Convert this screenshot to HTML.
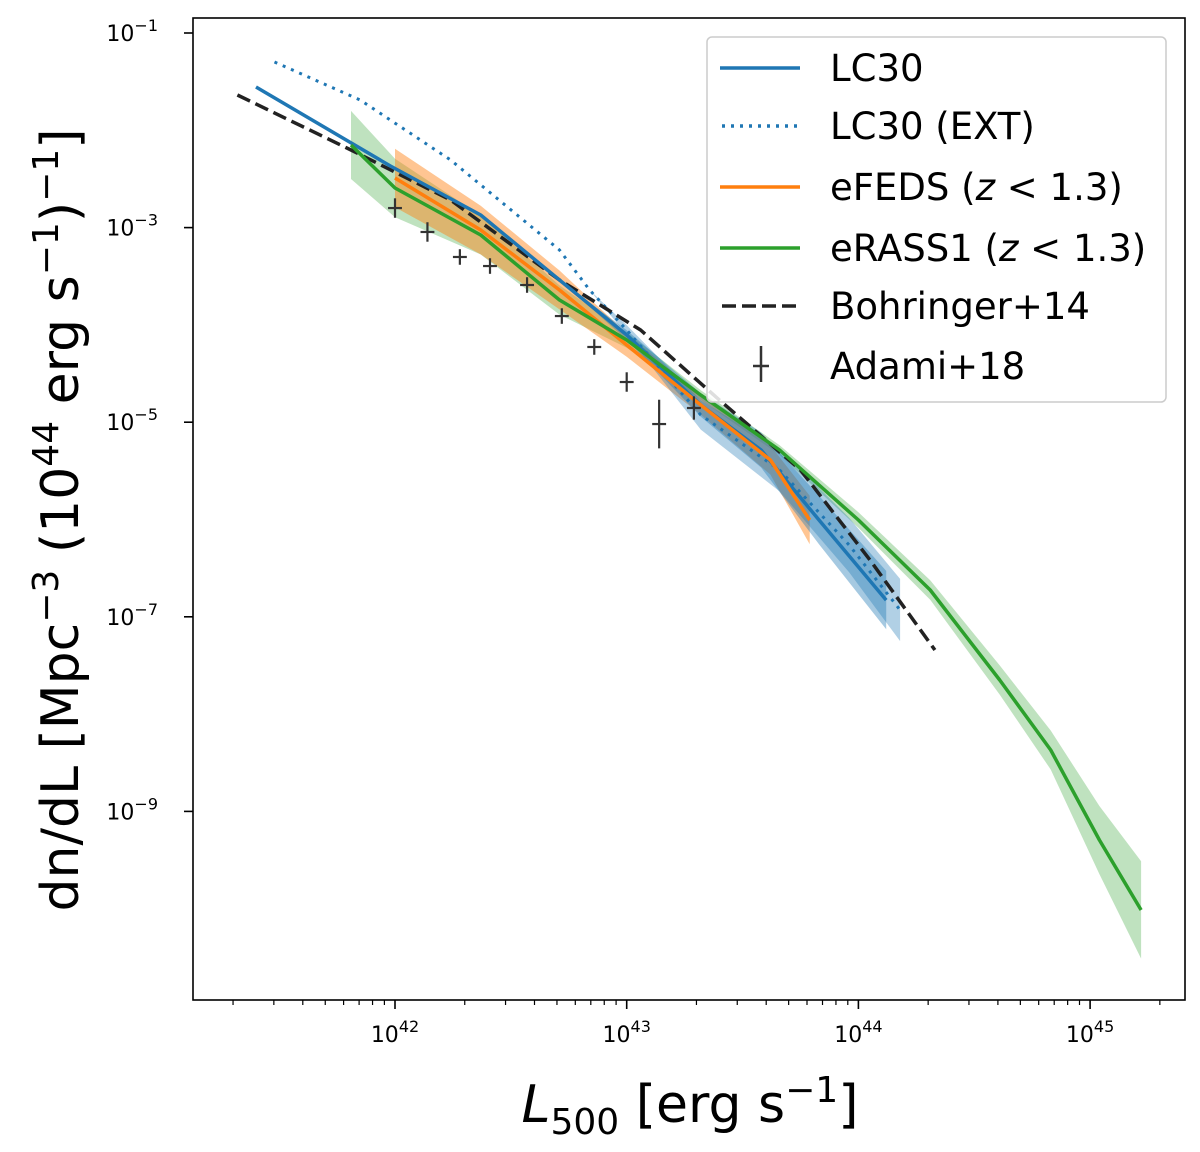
<!DOCTYPE html>
<html><head><meta charset="utf-8"><style>
body{margin:0;background:#fff;}
svg text{font-family:"DejaVu Sans","Liberation Sans",sans-serif;fill:#000;}
</style></head><body>
<svg id="chart" width="1200" height="1147" viewBox="0 0 1200 1147" xmlns="http://www.w3.org/2000/svg">
<g id="plot"></g>
<rect x="193" y="18" width="992" height="982" fill="none" stroke="#000" stroke-width="1.6"/>
<g id="ticks"></g>
<text transform="translate(78,520) rotate(-90)" text-anchor="middle" font-size="52">dn/dL [Mpc<tspan dy="-20" font-size="36">−3</tspan><tspan dy="20"> (10</tspan><tspan dy="-20" font-size="36">44</tspan><tspan dy="20">  erg s</tspan><tspan dy="-20" font-size="36">−1</tspan><tspan dy="20">)</tspan><tspan dy="-20" font-size="36">−1</tspan><tspan dy="20">]</tspan></text>
<text x="690" y="1122" text-anchor="middle" font-size="52"><tspan font-style="italic">L</tspan><tspan dy="12" font-size="36">500</tspan><tspan dy="-12"> [erg s</tspan><tspan dy="-20" font-size="36">−1</tspan><tspan dy="20">]</tspan></text>
<g>
<rect x="707" y="37" width="459" height="365" rx="5" fill="#fff" fill-opacity="0.85" stroke="#ccc" stroke-width="1.5"/>
<line x1="720" y1="68" x2="800" y2="68" stroke="#1f77b4" stroke-width="3.5"/>
<text x="830" y="81" font-size="37">LC30</text>
<line x1="722" y1="126" x2="800" y2="126" stroke="#1f77b4" stroke-width="3.5" stroke-dasharray="3,6"/>
<text x="830" y="139" font-size="37">LC30 (EXT)</text>
<line x1="720" y1="187" x2="800" y2="187" stroke="#ff7f0e" stroke-width="3.5"/>
<text x="830" y="200" font-size="37">eFEDS  (<tspan font-style="italic">z</tspan> &lt; 1.3)</text>
<line x1="720" y1="248" x2="800" y2="248" stroke="#2ca02c" stroke-width="3.5"/>
<text x="830" y="261" font-size="37">eRASS1 (<tspan font-style="italic">z</tspan> &lt; 1.3)</text>
<line x1="722" y1="306" x2="800" y2="306" stroke="#222" stroke-width="3.5" stroke-dasharray="14,6"/>
<text x="830" y="319" font-size="37">Bohringer+14</text>
<g stroke="#333" stroke-width="2.5"><line x1="761" y1="346" x2="761" y2="382"/><line x1="753" y1="366" x2="769" y2="366"/></g>
<text x="830" y="379" font-size="37">Adami+18</text>
</g>
</svg>
<script>
// data (log10 values)
const lc30L=[41.40,41.98,42.37,42.71,43.00,43.32,43.58,43.83,44.12];
const lc30Y=[-1.555,-2.367,-2.870,-3.539,-4.104,-4.823,-5.286,-6.005,-6.828];
const lc30Err=[0,0,0,0,0.05,0.12,0.18,0.25,0.3];
const extL=[41.48,41.85,42.24,42.71,42.84,43.00,43.32,43.66,43.96,44.18];
const extY=[-1.298,-1.689,-2.305,-3.230,-3.641,-4.052,-4.926,-5.491,-6.262,-6.930];
const extErr=[0,0,0,0,0,0.05,0.15,0.22,0.28,0.32];
const bohL=[41.32,41.81,42.24,42.71,43.06,43.40,43.75,44.05,44.33];
const bohY=[-1.637,-2.202,-2.716,-3.539,-4.052,-4.772,-5.491,-6.416,-7.341];
const erL=[41.81,42.00,42.37,42.71,43.00,43.32,43.66,44.00,44.31,44.61,44.83,45.04,45.22];
const erY=[-2.151,-2.593,-3.076,-3.744,-4.155,-4.721,-5.286,-6.005,-6.725,-7.650,-8.369,-9.294,-10.013];
const erErr=[0.35,0.3,0.2,0.15,0.08,0.05,0.05,0.08,0.1,0.15,0.2,0.35,0.5];
const efL=[42.00,42.37,42.71,43.00,43.32,43.62,43.79];
const efY=[-2.490,-3.025,-3.641,-4.207,-4.823,-5.389,-6.005];
const efErr=[0.3,0.25,0.2,0.12,0.1,0.15,0.25];
const adL=[42.00,42.14,42.28,42.41,42.57,42.72,42.86,43.00,43.14,43.29];
const adY=[-2.799,-3.045,-3.302,-3.395,-3.590,-3.909,-4.227,-4.587,-5.019,-4.854];
const adErr=[0.1,0.1,0.08,0.08,0.08,0.08,0.08,0.1,0.25,0.12];
const xTickExp=[42,43,44,45];
const yTickExp=[-1,-3,-5,-7,-9];

const X=l=>395+(l-42)*231.7;
const Y=v=>33+(-1-v)*97.3;
const NS="http://www.w3.org/2000/svg";
const plot=document.getElementById('plot'), ticks=document.getElementById('ticks');
function mk(tag,attrs,parent){const e=document.createElementNS(NS,tag);for(const k in attrs)e.setAttribute(k,attrs[k]);parent.appendChild(e);return e;}
function pts(L,V,off){return L.map((l,i)=>X(l).toFixed(1)+','+Y(V[i]+(off?off[i]:0)).toFixed(1));}
function band(L,V,E,color,op,name){
  const up=pts(L,V,E), lo=pts(L,V,E.map(e=>-e)).reverse();
  const p=mk('polygon',{points:up.concat(lo).join(' '),fill:color,'fill-opacity':op,stroke:'none'},plot);
  
  
}
function line(L,V,color,dash,name,w){
  const p=mk('polyline',{points:pts(L,V).join(' '),fill:'none',stroke:color,'stroke-width':w||3.5,'stroke-dasharray':dash||'none','stroke-linejoin':'round'},plot);
  
  
}
band(erL,erY,erErr,'#2ca02c',0.3,'erass1-band');
band(efL,efY,efErr,'#ff7f0e',0.45,'efeds-band');
band(extL,extY,extErr,'#1f77b4',0.35,'lc30-ext-band');
band(lc30L,lc30Y,lc30Err,'#1f77b4',0.4,'lc30-band');
line(extL,extY,'#1f77b4','3,6','lc30-ext-line',3);
line(bohL,bohY,'#222','14,6','bohringer-line');
line(lc30L,lc30Y,'#1f77b4',null,'lc30-line');
line(efL,efY,'#ff7f0e',null,'efeds-line');
line(erL,erY,'#2ca02c',null,'erass1-line');
adL.forEach((l,i)=>{
  const g=mk('g',{stroke:'#333','stroke-width':2.2},plot);
  
  
  mk('line',{x1:X(l),x2:X(l),y1:Y(adY[i]+adErr[i]),y2:Y(adY[i]-adErr[i])},g);
  mk('line',{x1:X(l-0.03),x2:X(l+0.03),y1:Y(adY[i]),y2:Y(adY[i])},g);
});
// x ticks
for(let d=41;d<=45;d++){for(let m=1;m<10;m++){const l=d+Math.log10(m);const x=X(l);if(x<194||x>1184)continue;
  mk('line',{x1:x,x2:x,y1:1000,y2:m==1?1009:1005,stroke:'#000','stroke-width':m==1?1.6:1.2},ticks);}}
xTickExp.forEach(e=>{const t=mk('text',{x:X(e),y:1042,'text-anchor':'middle','font-size':22},ticks);
  
  
  t.innerHTML='10<tspan dy="-10" font-size="16">'+e+'</tspan>';});
yTickExp.forEach(e=>{const y=Y(e);mk('line',{x1:184,x2:193,y1:y,y2:y,stroke:'#000','stroke-width':1.6},ticks);
  const t=mk('text',{x:158,y:y+8,'text-anchor':'end','font-size':22},ticks);
  
  
  t.innerHTML='10<tspan dy="-10" font-size="16">'+(e<0?'−'+(-e):e)+'</tspan>';});
</script>
</body></html>
